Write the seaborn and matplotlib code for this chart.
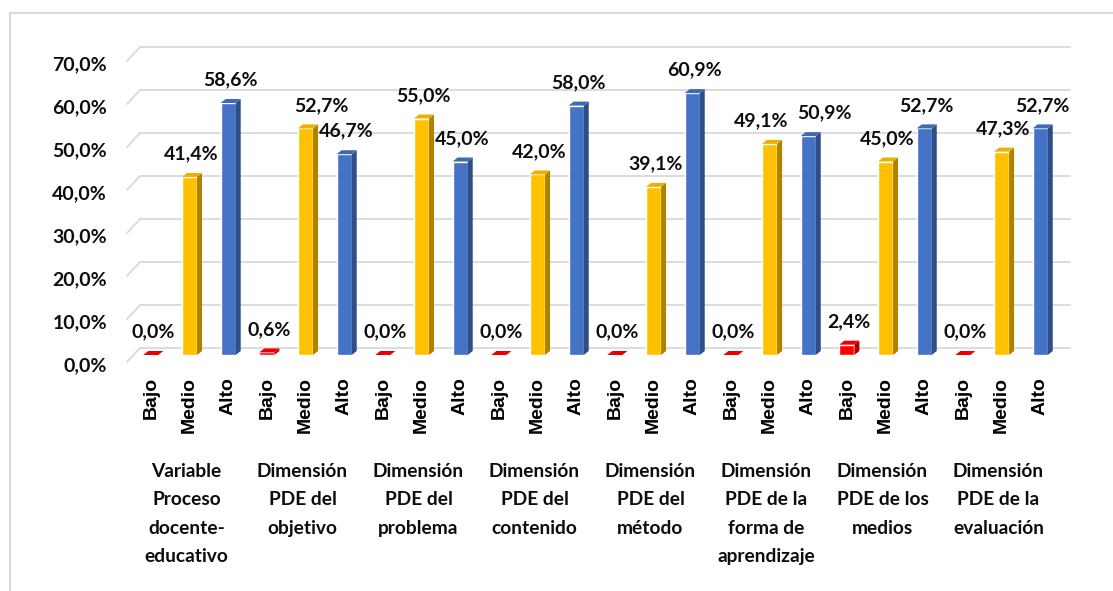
import matplotlib
matplotlib.use("Agg")
import matplotlib.pyplot as plt
import seaborn as sns
import pandas as pd
import numpy as np
from matplotlib.patches import Polygon
from matplotlib.lines import Line2D

# ---- data ----
grupos = [
    "Variable\nProceso\ndocente-\neducativo",
    "Dimensión\nPDE del\nobjetivo",
    "Dimensión\nPDE del\nproblema",
    "Dimensión\nPDE del\ncontenido",
    "Dimensión\nPDE del\nmétodo",
    "Dimensión\nPDE de la\nforma de\naprendizaje",
    "Dimensión\nPDE de los\nmedios",
    "Dimensión\nPDE de la\nevaluación",
]
niveles = ["Bajo", "Medio", "Alto"]
bajo = [0.0, 0.6, 0.0, 0.0, 0.0, 0.0, 2.4, 0.0]
medio = [41.4, 52.7, 55.0, 42.0, 39.1, 49.1, 45.0, 47.3]
alto = [58.6, 46.7, 45.0, 58.0, 60.9, 50.9, 52.7, 52.7]
yticks = [0, 10, 20, 30, 40, 50, 60, 70]
colores = {"Bajo": "#FF0000", "Medio": "#FFC000", "Alto": "#4472C4"}

rows = []
for g in range(len(grupos)):
    for nv, serie in zip(niveles, [bajo, medio, alto]):
        rows.append({"key": f"{g}-{nv}", "nivel": nv, "valor": serie[g]})
df = pd.DataFrame(rows)

# label nudges (pixels) to avoid overlaps, as in the original layout
label_dx = {4: 14, 16: -10, 17: 14}

sns.set_theme(style="white")
W, H = 1113, 591
fig = plt.figure(figsize=(W / 100, H / 100), dpi=100)
fig.patch.set_facecolor("white")

ax_l, ax_r = 140, 1070
y0_px, y70_px = 355, 54
ax = fig.add_axes([ax_l / W, 1 - y0_px / H, (ax_r - ax_l) / W, (y0_px - y70_px) / H])
ax.set_facecolor("none")

sns.barplot(data=df, x="key", y="valor", hue="nivel", palette=colores,
            dodge=False, width=0.39, saturation=1, legend=False, ax=ax,
            order=list(df["key"]), hue_order=niveles, zorder=3)

ax.set_xlim(-0.28, 23.77)
ax.set_ylim(0, 70)
for s in ax.spines.values():
    s.set_visible(False)
ax.set_xlabel("")
ax.set_ylabel("")
ax.set_yticks([])
ax.set_xticks(range(len(df)))
ax.set_xticklabels(list(df["nivel"]), rotation=90, ha="center", va="top",
                   fontfamily="Liberation Sans", fontweight="bold", fontsize=14,
                   color="black")
ax.tick_params(axis="x", length=0, pad=16)

fig.canvas.draw()
inv_fig = fig.transFigure.inverted()

def to_fig(px, py):
    return inv_fig.transform((px, py))

txt_c = "#0D0D0D"
grid_c = "#D9D9D9"
x_left_disp = ax.transAxes.transform((0, 0))[0]
x_right_disp = ax.transAxes.transform((1, 0))[0]
for v in yticks:
    yd = ax.transData.transform((0, v))[1]
    back = yd + 7
    front = yd - 7
    p1 = to_fig(x_left_disp, back)
    p2 = to_fig(x_right_disp, back)
    p3 = to_fig(x_left_disp - 13, front)
    fig.add_artist(Line2D([p1[0], p2[0]], [p1[1], p2[1]], color=grid_c, lw=1.3, zorder=0))
    fig.add_artist(Line2D([p3[0], p1[0]], [p3[1], p1[1]], color=grid_c, lw=1.3, zorder=0))
    lab = f"{v:.1f}".replace(".", ",") + "%"
    pt = to_fig(x_left_disp - 33, yd - 11)
    fig.text(pt[0], pt[1], lab, ha="right", va="center", fontfamily="Lato",
             fontweight="bold", fontsize=14, color=txt_c)

def darker(c, f):
    r, g, b = matplotlib.colors.to_rgb(c)
    return (r * f, g * f, b * f)

dx_px, dy_px = 5, 4
inv_data = ax.transData.inverted()
for p in ax.patches:
    x = p.get_x(); w = p.get_width(); h = p.get_height()
    fc = p.get_facecolor()
    (xa, ya) = ax.transData.transform((x, 0))
    (xb, yb) = ax.transData.transform((x + w, h))
    side = [(xb, ya), (xb + dx_px, ya + dy_px), (xb + dx_px, yb + dy_px), (xb, yb)]
    top = [(xa, yb), (xb, yb), (xb + dx_px, yb + dy_px), (xa + dx_px, yb + dy_px)]
    ax.add_patch(Polygon(inv_data.transform(side), closed=True, facecolor=darker(fc, 0.68),
                         edgecolor="none", zorder=3, clip_on=False))
    ax.add_patch(Polygon(inv_data.transform(top), closed=True, facecolor=darker(fc, 0.92),
                         edgecolor="none", zorder=3, clip_on=False))

for i, v in enumerate(df["valor"]):
    ax.annotate(f"{v:.1f}".replace(".", ",") + "%", xy=(i, v),
                xytext=(2 + label_dx.get(i, 0), 23),
                textcoords="offset pixels", ha="center", va="center",
                fontfamily="Lato", fontweight="bold", fontsize=14, color=txt_c,
                zorder=5, annotation_clip=False)

for g, name in enumerate(grupos):
    xc = ax.transData.transform((g * 3 + 1, 0))[0] - 3
    pt = to_fig(xc, H - 463)
    fig.text(pt[0], pt[1], name, ha="center", va="top", fontfamily="Lato",
             fontweight="bold", fontsize=13.8, color=txt_c, linespacing=1.82,
             multialignment="center")

bl = to_fig(10, 0); tl = to_fig(10, H - 13); tr = to_fig(W, H - 13)
fig.add_artist(Line2D([bl[0], tl[0], tr[0]], [bl[1], tl[1], tr[1]], color="#D9D9D9", lw=1.5))

fig.savefig("out.png", dpi=100)
